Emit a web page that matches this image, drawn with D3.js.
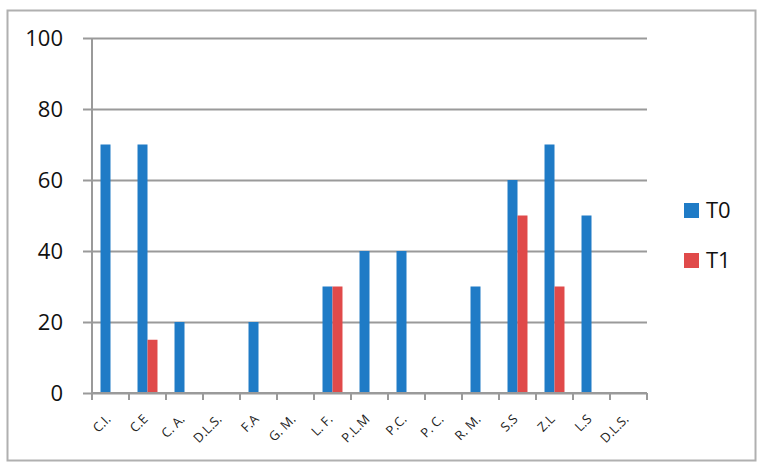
<!DOCTYPE html>
<html>
  <head>
    <meta charset="utf-8">
    <title>T0 / T1</title>
    <style>
      body { margin: 0; background: #fff; }
      text { font-family: "Open Sans", Arial, sans-serif; }
    </style>
  </head>
  <body>
    <script src="https://cdn.jsdelivr.net/npm/d3@7/dist/d3.min.js"></script>
    <script>

      var categories = ["C.I.", "C.E", "C. A.", "D.L.S.", "F.A", "G. M.", "L. F.", "P.L.M", "P.C.", "P. C.", "R. M.", "S.S", "Z.L", "L.S", "D.L.S."];
      var t0 = [70, 70, 20, 0, 20, 0, 30, 40, 40, 0, 30, 60, 70, 50, 0];
      var t1 = [0, 15, 0, 0, 0, 0, 30, 0, 0, 0, 0, 50, 30, 0, 0];
      var seriesNames = ["T0", "T1"];
      var seriesColors = ["#1f7bc6", "#e04a4a"];
      var yTicks = [0, 20, 40, 60, 80, 100];

      var width = 766,
        height = 470;

      var svg = d3.select("body")
        .append("svg")
        .attr("width", width)
        .attr("height", height);

      // outer frame
      svg.append("rect")
        .attr("x", 7.5).attr("y", 10.5)
        .attr("width", 748).attr("height", 450)
        .attr("fill", "#fff")
        .attr("stroke", "#b0b0b0")
        .attr("stroke-width", 2);

      var plotLeft = 92, plotRight = 647, plotTop = 38, plotBottom = 393;

      var x = d3.scaleBand()
        .domain(d3.range(categories.length))
        .range([plotLeft, plotRight])
        .paddingInner(0.46)
        .paddingOuter(0.23);

      var xs = d3.scaleBand()
        .domain(seriesNames)
        .range([0, x.bandwidth()]);

      var y = d3.scaleLinear()
        .domain([0, 100])
        .range([plotBottom, plotTop]);

      // gridlines + y labels
      var yAxis = svg.append("g")
        .attr("transform", "translate(" + plotLeft + ",0)")
        .call(d3.axisLeft(y).tickValues(yTicks).tickSize(-(plotRight - plotLeft)).tickSizeOuter(0).tickPadding(29));
      yAxis.select(".domain").remove();
      yAxis.selectAll(".tick line")
        .attr("x1", -9)
        .attr("stroke", "#9a9a9a")
        .attr("stroke-width", 2);
      yAxis.selectAll(".tick text")
        .attr("fill", "#111")
        .style("font-size", "22px");

      // y axis line
      svg.append("line")
        .attr("x1", plotLeft).attr("x2", plotLeft)
        .attr("y1", plotTop).attr("y2", plotBottom)
        .attr("stroke", "#9a9a9a")
        .attr("stroke-width", 2);

      // bars
      var rows = categories.map(function (c, i) { return { i: i, values: [t0[i], t1[i]] }; });

      var grp = svg.selectAll(".cat")
        .data(rows)
        .enter()
        .append("g")
        .attr("class", "cat")
        .attr("transform", function (d) { return "translate(" + x(d.i) + ",0)"; });

      grp.selectAll("rect")
        .data(function (d) { return d.values.map(function (v, k) { return { name: seriesNames[k], v: v, k: k }; }); })
        .enter()
        .append("rect")
        .attr("x", function (d) { return xs(d.name); })
        .attr("width", xs.bandwidth())
        .attr("y", function (d) { return y(d.v); })
        .attr("height", function (d) { return y(0) - y(d.v); })
        .attr("fill", function (d) { return seriesColors[d.k]; });

      // x axis with boundary ticks
      var step = x.step();
      var xAxis = svg.append("g")
        .attr("transform", "translate(0," + plotBottom + ")");
      xAxis.append("line")
        .attr("x1", plotLeft).attr("x2", plotRight)
        .attr("stroke", "#9a9a9a").attr("stroke-width", 2);
      xAxis.selectAll(".bt")
        .data(d3.range(categories.length + 1))
        .enter()
        .append("line")
        .attr("x1", function (d) { return plotLeft + d * step; })
        .attr("x2", function (d) { return plotLeft + d * step; })
        .attr("y1", 0).attr("y2", 7)
        .attr("stroke", "#9a9a9a").attr("stroke-width", 2);

      // rotated category labels
      var lab = xAxis.selectAll(".xl")
        .data(categories)
        .enter()
        .append("g")
        .attr("class", "xl")
        .attr("transform", function (d, i) { return "translate(" + (x(i) + x.bandwidth() / 2 + 1) + ",27)"; });
      lab.append("text")
        .attr("text-anchor", "end")
        .attr("transform", "rotate(-45)")
        .attr("fill", "#222")
        .style("font-size", "13px")
        .text(function (d) { return d; });

      // legend
      var legend = svg.selectAll(".lg")
        .data(seriesNames)
        .enter()
        .append("g")
        .attr("transform", function (d, i) { return "translate(684," + (203 + i * 50) + ")"; });
      legend.append("rect")
        .attr("width", 15).attr("height", 15)
        .attr("fill", function (d, i) { return seriesColors[i]; });
      legend.append("text")
        .attr("x", 22).attr("y", 15)
        .attr("fill", "#111")
        .style("font-size", "22px")
        .text(function (d) { return d; });

    </script>
  </body>
</html>
